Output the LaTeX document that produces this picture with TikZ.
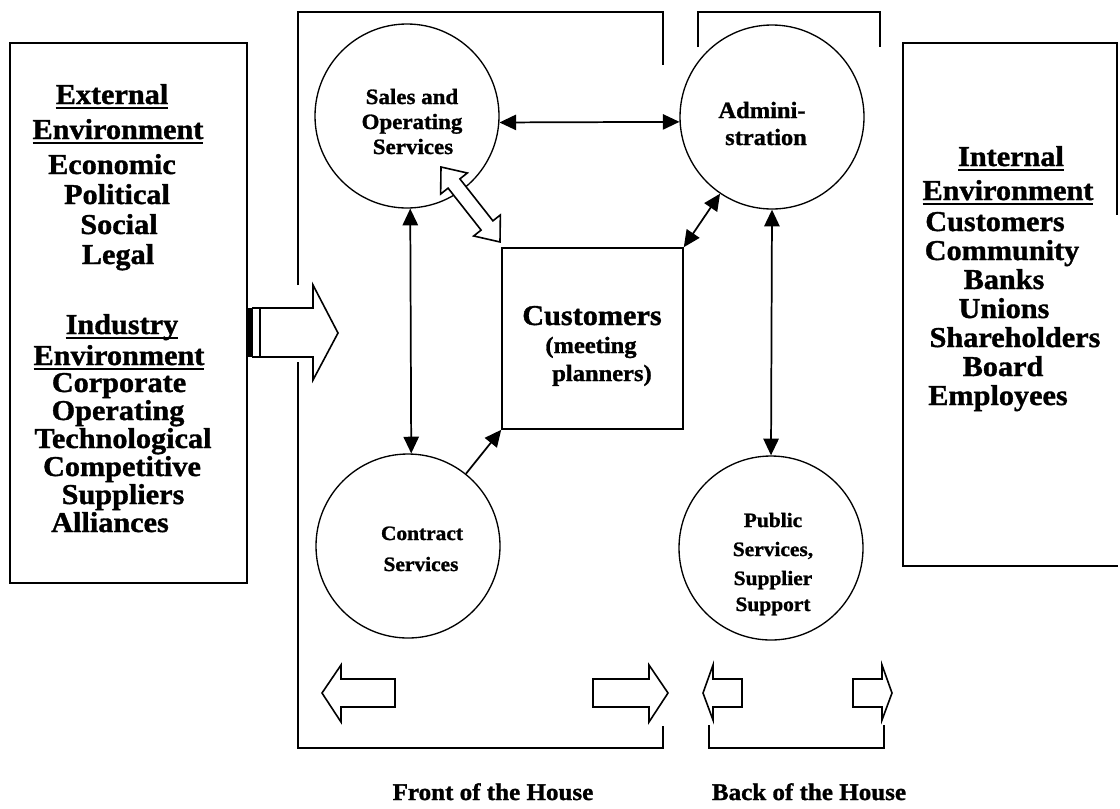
\documentclass[tikz,border=0pt]{standalone}
\usepackage{fontspec}
\setmainfont{Liberation Serif}[FakeStretch=1.05, BoldFeatures={FakeBold=1.2}]
\usetikzlibrary{arrows.meta,calc}
% bold underline used for the section headings
\newcommand\ulword[1]{\leavevmode\setbox0=\hbox{#1}\rlap{\rule[-3.4pt]{\wd0}{1.4pt}}\box0}
\tikzset{
  frame/.style={line width=1.2pt},
  ring/.style={draw, circle, line width=1pt, minimum size=138pt, inner sep=0pt},
  boxtxt/.style={font=\bfseries\fontsize{21.6}{23}\selectfont, inner sep=0pt, anchor=base},
  ringtxt/.style={font=\bfseries\fontsize{16.4}{19}\selectfont, inner sep=0pt, anchor=base},
  subtxt/.style={font=\bfseries\fontsize{17.5}{20}\selectfont, inner sep=0pt, anchor=base},
  lowtxt/.style={font=\bfseries\fontsize{15.3}{18}\selectfont, inner sep=0pt, anchor=base},
  captxt/.style={font=\bfseries\fontsize{17.9}{20}\selectfont, inner sep=0pt, anchor=base},
  link/.style={line width=1.3pt, {Triangle[length=12.5pt,width=11.5pt]}-{Triangle[length=12.5pt,width=11.5pt]}},
  feed/.style={line width=1.3pt, -{Triangle[length=12.5pt,width=11.5pt]}},
  block/.style={line width=1.2pt, draw, fill=white, line join=miter},
}
\begin{document}
\begin{tikzpicture}[x=0.75pt,y=-0.75pt]
\useasboundingbox (0,0) rectangle (1120,808);

% ---- environment boxes
\node[draw, frame, minimum width=177.75pt, minimum height=405pt, inner sep=0pt] (extbox) at (128.5,313) {};
\draw[frame] (1118,43) -- (903,43) -- (903,566) -- (1118,566);
\draw[frame] (1117,43) -- (1117,215);

% external / industry environment
\foreach \t/\x/\y [count=\i] in {
  {\ulword{External}}/112/104, {\ulword{Environment}}/118/139, Economic/112/174,
  Political/117/204, Social/119/234, Legal/118/264,
  {\ulword{Industry}}/122/334, {\ulword{Environment}}/119/365, Corporate/119/392,
  Operating/118/420, Technological/123/448, Competitive/122/476,
  Suppliers/123/504, Alliances/110/532}
  \node[boxtxt] (ext\i) at (\x,\y) {\t};

% internal environment
\foreach \t/\x/\y [count=\i] in {
  {\ulword{Internal}}/1011/166, {\ulword{Environment}}/1008/200, Customers/995/231,
  Community/1002/260, Banks/1004/289, Unions/1004/318,
  Shareholders/1015/347, Board/1003/376, Employees/998/405}
  \node[boxtxt] (int\i) at (\x,\y) {\t};

% ---- front / back of the house brackets
\draw[frame] (298,285) -- (298,12) -- (663,12) -- (663,65);
\draw[frame] (298,362) -- (298,748) -- (663,748) -- (663,726);
\draw[frame] (698,47) -- (698,12) -- (880,12) -- (880,47);
\draw[frame] (709,725) -- (709,748) -- (884,748) -- (884,725);

% ---- departments
\node[ring] (sales) at (407,116) {};
\node[ring] (admin) at (772,117) {};
\node[ring] (contract) at (408,546) {};
\node[ring] (public) at (771,548) {};
\node[draw, line width=1.2pt, minimum width=135.75pt, minimum height=135.75pt, inner sep=0pt] (cust) at (592.5,338.5) {};

\node[ringtxt] (s1) at (412,104) {Sales and};
\node[ringtxt] (s2) at (412,129) {Operating};
\node[ringtxt] (s3) at (413,154) {Services};
\node[subtxt] (a1) at (762,118) {Admini-};
\node[subtxt] (a2) at (766,145) {stration};
\node[lowtxt] (c1) at (422,540) {Contract};
\node[lowtxt] (c2) at (421,571) {Services};
\node[lowtxt] (p1) at (773,527) {Public};
\node[lowtxt] (p2) at (773,556) {Services,};
\node[lowtxt] (p3) at (773,585) {Supplier};
\node[lowtxt] (p4) at (773,611) {Support};
\node[boxtxt] (k1) at (592,325) {Customers};
\node[subtxt] (k2) at (591,353) {(meeting};
\node[subtxt] (k3) at (602,381) {planners)};

% ---- links between departments
\draw[link] (sales.-4) -- (admin.183);
\draw[link] (sales.-88) -- (contract.88);
\draw[link] (admin.-90) -- (public.90);
\draw[link] (cust.north east) -- (admin);
\draw[feed] (contract) -- (cust.south west);

% hollow two-way block arrow between sales and the customers
\begin{scope}[shift={($(sales.center)+(34,51)$)}, rotate=-51.8]
  \draw[block] (0,0) -- (21,-17) -- (21,-7.5) -- (74.4,-7.5) -- (74.4,-17)
    -- (95.4,0) -- (74.4,17) -- (74.4,7.5) -- (21,7.5) -- (21,17) -- cycle;
\end{scope}

% striped block arrow from the outside environment
\draw[block] (252,308) -- (313,308) -- (313,285) -- (338,333) -- (313,380)
  -- (313,357) -- (252,357);
\fill (247,308) rectangle (253,357);
\draw[line width=1.2pt] (260,308) -- (260,357);

% ---- direction arrows at the bottom
\draw[block] (322,693) -- (341,665) -- (341,679) -- (395,679) -- (395,707)
  -- (341,707) -- (341,722) -- cycle;
\draw[block] (668,693) -- (649,665) -- (649,679) -- (593,679) -- (593,707)
  -- (649,707) -- (649,722) -- cycle;
\draw[block] (703,693) -- (713,665) -- (713,679) -- (742,679) -- (742,707)
  -- (713,707) -- (713,720) -- cycle;
\draw[block] (892,693) -- (882,665) -- (882,679) -- (853,679) -- (853,707)
  -- (882,707) -- (882,720) -- cycle;

\node[captxt] (front) at (493,800) {Front of the House};
\node[captxt] (back) at (809,800) {Back of the House};
\end{tikzpicture}
\end{document}
